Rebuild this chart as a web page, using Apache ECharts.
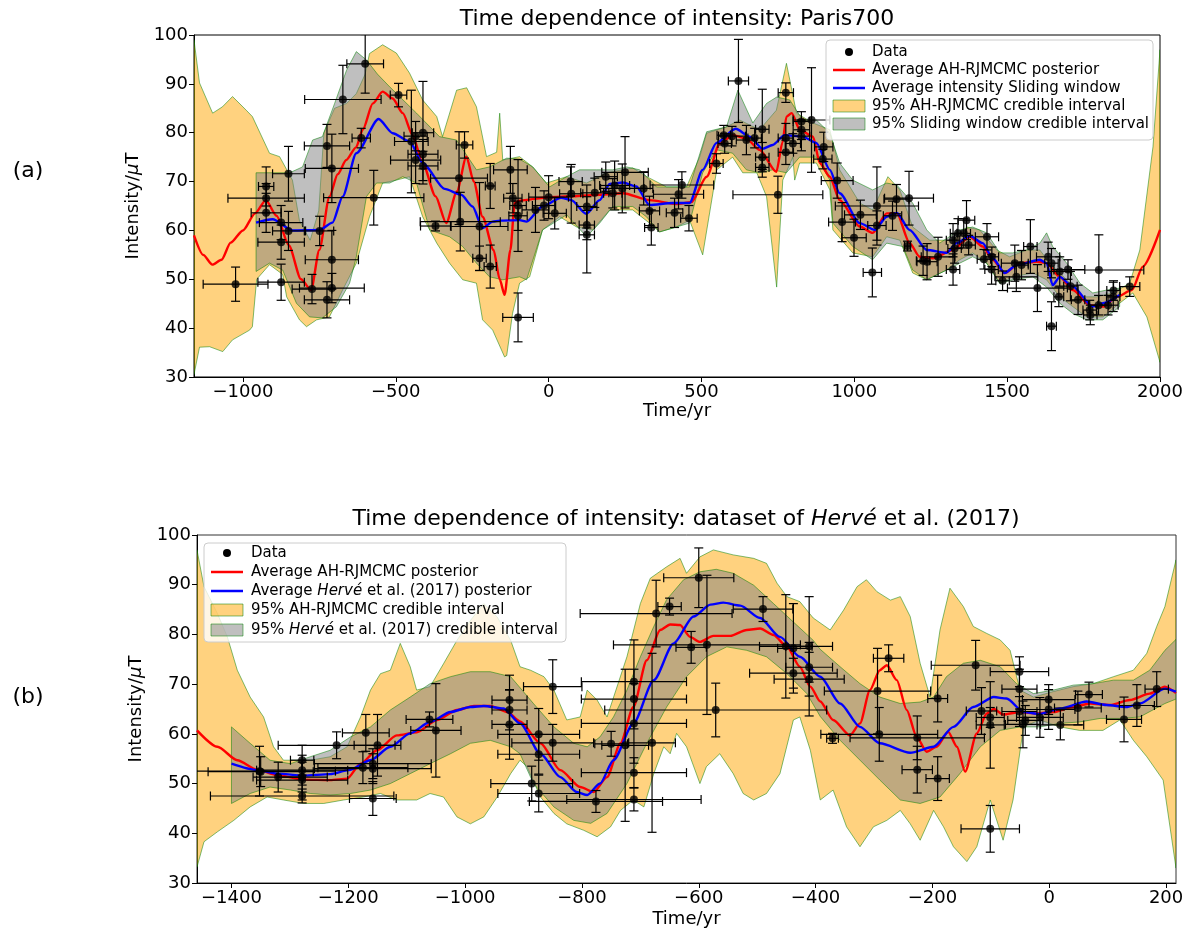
<!DOCTYPE html>
<html><head><meta charset="utf-8">
<script src="https://cdn.jsdelivr.net/npm/echarts@6/dist/echarts.min.js"></script>
<style>html,body{margin:0;padding:0;background:#fff}#c{width:1189px;height:936px}</style>
</head><body><div id="c"></div>
<script>
// ---------- Panel (a): Paris700 ----------
const xTicksA = [-1000,-500,0,500,1000,1500,2000];
const yTicks = [30,40,50,60,70,80,90,100];
// data points: [time, intensity, time error, intensity error]
const dataA = [
[-1024,49.0,106,3.5],[-924,69.0,25,4],[-924,66.6,125,3],[-924,63.6,49,4],[-851,71.6,52,5.6],[-875,61.6,71,3.5],
[-851,59.9,52,4],[-875,57.6,76,3.5],[-875,49.4,76,3.7],[-774,48.0,65,3],[-749,59.9,46,3],[-725,77.3,74,4.4],
[-709,72.7,87,7],[-709,54.0,87,6],[-709,48.2,106,3],[-725,45.8,74,3.7],[-673,86.8,125,7],[-600,94.1,60,6],
[-613,78.9,30,2],[-572,66.7,164,5.6],[-491,87.7,27,2.4],[-449,78.2,55,10.5],[-435,79.3,38,3],[-411,80.0,35,10.5],
[-435,74.4,82,4.8],[-411,75.6,49,3],[-411,73.2,49,3],[-370,60.9,49,1],[-275,77.5,27,2.7],[-293,70.7,93,9.5],
[-289,61.8,131,6],[-226,60.8,93,9],[-226,54.3,22,2.5],[-191,69.1,16,4.6],[-191,52.6,20,4.4],[-125,72.4,55,4.8],
[-117,66.6,30,3],[-100,42.2,50,5],[-100,63.0,30,3],[-100,65.1,27,9.4],[-43,64.2,44,4.6],[-15,65.1,38,3],
[0,66.8,65,4.4],[20,63.5,38,3.2],[72,70.0,38,3],[74,67.5,38,6],[125,64.9,33,4.4],[125,61.1,25,3],
[125,59.1,25,7.8],[151,67.7,46,3],[187,71.0,38,3],[216,69.2,49,5],[210,67.6,30,3],[241,68.6,71,5],
[250,71.9,76,7.3],[311,68.6,30,3.4],[330,64.0,33,3],[336,60.6,22,3.6],[412,63.6,27,3],[425,67.4,82,3],
[436,69.3,104,2.7],[459,62.5,27,2.6],[549,73.7,22,2],[573,79.5,22,2],[576,77.8,22,2],[600,79.3,44,2],
[621,90.6,33,8.5],[647,78.5,33,3],[674,78.9,22,2],[699,80.7,22,8.2],[699,75.0,22,3],[699,72.9,22,2],
[750,67.3,147,3.8],[776,88.2,25,2],[776,78.9,25,3],[776,76.0,25,2.5],[799,77.8,25,2],[827,82.3,27,2],
[827,80.6,27,2],[827,79.3,27,3],[860,82.6,60,10.7],[900,77.1,30,3],[897,74.6,30,2],[944,70.2,52,3.6],
[960,61.7,44,4],[999,58.5,40,3.8],[1020,63.2,52,3],[1059,51.4,30,5],[1074,65.0,136,8],[1074,61.0,30,3],
[1125,63.0,30,3],[1138,66.4,41,3],[1179,66.6,80,5.5],[1174,56.8,10,1],[1225,53.8,22,3],[1238,53.6,33,3.7],
[1274,54.6,55,4],[1323,52.0,22,3.2],[1323,58.0,22,3.4],[1328,56.3,22,3],[1339,59.4,25,3],[1367,62.1,27,4],
[1358,59.4,22,3],[1374,57.0,22,2],[1424,54.1,22,2],[1434,58.7,38,2.7],[1449,52.0,22,3],[1450,54.6,22,2],
[1485,49.7,22,2],[1525,53.3,44,3.7],[1530,50.5,70,3],[1547,52.9,22,3],[1576,56.7,22,5.5],[1599,48.2,98,4.8],
[1634,54.6,38,3],[1645,53.3,22,3],[1645,40.4,16,5],[1672,51.6,38,3],[1669,46.4,16,2],[1699,52.0,55,2],
[1707,48.6,22,3],[1732,45.8,22,3],[1770,43.7,22,2],[1772,42.7,22,2],[1800,51.9,147,7.2],[1799,44.7,33,2],
[1830,44.7,33,2],[1847,46.4,22,3],[1848,47.7,22,2],[1901,48.5,33,2]
];
const redA = [
[-1160,59],[-1130,55],[-1100,53],[-1070,54],[-1040,57.5],[-1000,60],[-960,63.5],[-925,66.2],[-890,63],[-850,57],
[-810,50],[-777,47.8],[-750,56],[-717,66.9],[-690,71.5],[-662,74.4],[-630,77],[-608,80.6],[-575,86],[-543,88.4],
[-510,87],[-477,84],[-445,79.5],[-412,73.8],[-370,67],[-335,61.5],[-300,68],[-269,75.1],[-245,70],[-216,62.8],
[-180,56],[-160,50],[-144,46.8],[-125,56],[-111,65.6],[-95,66.1],[0,66.8],[80,67],[167,67.3],[243,67.6],
[330,66.2],[418,65.4],[467,65.8],[517,71],[560,77.8],[603,79.5],[647,78.8],[690,76.5],[745,72],[765,78],
[778,83.3],[795,84],[822,80.6],[865,79.2],[887,73.8],[920,71],[952,66.2],[1018,60.8],[1060,59.5],[1106,63.5],
[1139,63.5],[1181,57.4],[1214,54.6],[1257,54.3],[1322,56],[1378,58.7],[1420,56.7],[1453,54],[1492,51.3],[1541,53.3],
[1597,53.6],[1629,53.3],[1672,50.5],[1715,47.8],[1770,44.7],[1813,44.4],[1859,46.4],[1908,47.8],[1944,52.6],[2000,60.1]
];
const blueA = [
[-957,61.6],[-903,62.3],[-838,60],[-749,60.1],[-707,61.6],[-674,66.9],[-629,75.8],[-556,82.8],[-510,79.9],[-455,78.2],
[-412,73.8],[-340,68.5],[-286,67.3],[-249,64.9],[-216,60.5],[-183,61.8],[-160,62],[-95,62.1],[-72,61.8],[-20,64.9],
[41,66.7],[74,66.2],[123,63.4],[167,66.2],[200,69.5],[243,69.8],[287,69],[330,65.2],[406,65.6],[461,65.6],
[504,72.4],[549,77.9],[612,80.8],[658,79.2],[700,76.7],[733,77.5],[772,79.5],[831,79.2],[876,77.9],[920,72.4],
[952,67.6],[1018,61.5],[1067,60.1],[1106,62.8],[1139,63.6],[1181,60.1],[1237,56],[1302,55.4],[1335,57.4],[1378,58.9],
[1420,57.4],[1453,54.3],[1492,51.3],[1531,52.9],[1607,54],[1629,53.3],[1649,48.8],[1672,50.5],[1715,48.5],[1780,44.4],
[1813,45.1],[1868,46.8]
];
const orangeUpperA = [
[-1160,99],[-1142,90.2],[-1099,84],[-1067,85.3],[-1034,87.4],[-989,84.6],[-969,83.3],[-913,75.8],[-880,75.1],[-838,70.3],
[-815,62],[-780,58],[-752,64],[-735,80],[-700,85],[-661,86],[-629,88],[-600,92],[-586,96.2],[-543,98],
[-498,96.3],[-455,92.2],[-412,86.7],[-366,83.3],[-347,79.2],[-301,88.7],[-268,89.2],[-236,85.3],[-203,75.1],[-170,76],
[-160,84],[-150,74.4],[-95,75.1],[-52,73],[-7,69.7],[59,71],[124,69.7],[190,71.8],[275,72.8],[321,71],
[386,68.9],[451,68.9],[494,75],[517,79.9],[582,81.2],[625,82.6],[690,80.6],[745,84.6],[778,94.2],[811,84],
[865,82],[920,80.6],[952,72.4],[1018,65.6],[1060,64.2],[1110,71],[1149,68.3],[1191,60.7],[1247,58],[1322,58],
[1368,60.7],[1410,60.1],[1466,56],[1508,54.6],[1564,56],[1607,56],[1639,53.3],[1695,49.9],[1747,46.4],[1793,46.4],
[1845,47.2],[1901,49.2],[1934,56],[1977,77.1],[2000,97]
];
const orangeLowerA = [
[-1160,30.5],[-1142,36.1],[-1109,36.2],[-1066,35.2],[-1034,37.6],[-978,39.6],[-969,40.3],[-955,50],[-913,53],[-870,51],
[-857,46.4],[-815,41.7],[-792,40.3],[-759,41.7],[-717,42.3],[-674,47.8],[-629,53.3],[-586,62.8],[-543,69.7],[-498,70.3],
[-455,71],[-412,62.8],[-366,57.4],[-324,53.3],[-281,49.9],[-236,49.2],[-216,41.7],[-183,39.6],[-144,34.1],[-137,34.4],
[-118,43],[-95,49.2],[-62,50.5],[-20,60.1],[36,62.8],[92,60.7],[144,60.1],[200,64.2],[275,64.2],[330,61.5],
[363,59.7],[418,60.7],[461,62.1],[504,55],[550,72.4],[602,75],[635,71.8],[681,71.8],[713,66.9],[746,48.4],
[766,70.3],[799,75],[805,70.3],[821,73.8],[876,73.8],[920,68.3],[930,60.1],[995,55.4],[1060,54.6],[1106,58.7],
[1149,58],[1191,51.3],[1237,49.9],[1302,51.9],[1345,54],[1387,55.4],[1433,53.3],[1476,49.2],[1518,50.5],[1584,51.3],
[1629,49.9],[1672,46.4],[1715,44.4],[1760,42.3],[1813,42.3],[1868,45.1],[1911,47.2],[1957,42.3],[2000,33]
];
const grayUpperA = [
[-957,71.8],[-847,71.8],[-805,73],[-772,78.5],[-740,79.2],[-700,86],[-661,92.8],[-629,96.6],[-596,94.9],[-560,92],
[-520,89.4],[-432,84],[-357,79.2],[-301,78.5],[-236,72.4],[-193,73],[-137,74.8],[-95,74.6],[-52,73],[3,68.9],
[59,71],[101,72.4],[157,72.4],[210,72.4],[255,73],[298,72.4],[353,68.9],[418,68.9],[461,68.9],[517,80.2],
[582,81.2],[619,88.7],[668,82],[713,86],[746,87.3],[789,86.7],[831,82.6],[876,82.6],[920,79.9],[952,73.8],
[995,70.3],[1060,68.3],[1106,69.7],[1139,69.3],[1191,65.6],[1237,60.1],[1279,57.4],[1345,60.1],[1387,60.7],[1433,59.5],
[1476,55.4],[1518,55.4],[1564,56],[1607,57.4],[1629,59.5],[1649,56.7],[1695,53.3],[1738,49.2],[1780,47.2],[1826,47.8],
[1868,48.2]
];
const grayLowerA = [
[-957,51.6],[-913,53.3],[-870,51.9],[-825,45.1],[-782,42.3],[-740,42.1],[-694,44.4],[-651,49.2],[-629,54.6],[-596,66.9],
[-563,69.7],[-520,69.7],[-477,71],[-432,69.7],[-389,60.1],[-324,58.7],[-281,56.7],[-236,53.3],[-193,50.5],[-150,49.9],
[-95,50.5],[-72,49.9],[-20,60.1],[59,63.2],[124,58.7],[167,61.5],[210,64.9],[275,64.9],[320,62.8],[363,59.7],
[418,60.7],[461,61.5],[504,71.8],[550,76.5],[602,75.8],[647,72.4],[690,71.8],[733,72.4],[778,71.8],[821,75],
[876,75],[920,70.3],[930,61.5],[995,56.7],[1060,54],[1106,57.4],[1159,56.7],[1191,51.9],[1237,49.9],[1302,51.9],
[1345,53.3],[1387,54.6],[1433,53.3],[1476,49.2],[1518,49.9],[1584,50.5],[1629,48.4],[1672,45.1],[1715,43],[1760,41.7],
[1813,41.7],[1868,44.4]
];

// ---------- Panel (b): Hervé et al. (2017) ----------
const xTicksB = [-1400,-1200,-1000,-800,-600,-400,-200,0,200];
const dataB = [
[-1352,52.5,130,5],[-1350,52.4,90,3],[-1320,51.3,43,3],[-1279,54.7,20,3],[-1279,52.7,78,3],[-1279,51.3,43,3],
[-1279,47.5,157,1.4],[-1279,50.7,78,4],[-1220,57.7,100,2.7],[-1170,60.2,40,3.7],[-1175,53.2,77,3.2],[-1150,57.7,40,6.2],
[-1158,54.0,100,3],[-1158,53.0,100,3],[-1158,47.0,40,3.4],[-1061,62.9,40,1.5],[-1050,60.7,43,9.4],[-924,66.8,30,5],
[-924,64.8,30,4],[-924,61.9,30,7],[-874,59.9,70,5.2],[-874,55.9,70,4],[-886,50.0,70,3.5],[-874,48.0,70,3.7],
[-850,69.5,50,5.4],[-850,58.2,70,3.7],[-776,46.4,114,2.2],[-750,58.0,28,2.5],[-726,57.7,40,15.3],[-711,70.5,90,8.4],
[-711,67.0,90,6],[-711,62.1,90,8],[-711,52.2,90,3],[-711,46.8,115,2.3],[-680,58.2,40,18],[-673,84.2,130,6.7],
[-650,85.6,20,1.7],[-613,77.4,26,3.2],[-600,91.4,60,6],[-586,77.9,160,14],[-571,64.8,190,5.4],[-490,85.1,51,2.5],
[-451,77.6,45,10.4],[-438,77.2,27,9],[-438,72.2,75,3],[-411,77.6,40,10],[-411,73.4,40,3],[-411,71.0,60,7.4],
[-371,59.1,10,1],[-294,68.6,91,8.6],[-291,59.9,100,5.4],[-275,75.2,26,2.7],[-226,59.2,115,4.4],[-226,52.8,26,4.7],
[-191,67.1,17,4.7],[-191,51.0,20,4.4],[-126,73.8,76,5],[-116,64.6,26,4.7],[-101,63.3,24,2],[-101,61.8,24,8.7],
[-101,40.9,50,4.7],[-51,72.5,50,3],[-51,69.0,30,4],[-51,64.5,30,3],[-45,61.9,30,4.7],[-41,62.7,30,3],
[-16,63.3,40,4],[-1,66.9,45,3],[-1,64.9,45,4],[19,61.8,40,3],[49,65.2,40,3.4],[68,67.9,23,2.5],
[128,62.9,30,4.5],[150,65.7,30,4.2],[184,69.0,20,3.5]
];
const redB = [
[-1459,60.7],[-1424,57.4],[-1390,54.7],[-1356,52.8],[-1322,51.7],[-1276,50.8],[-1231,50.7],[-1202,51],[-1179,54],[-1151,56.7],
[-1117,59.7],[-1083,60.3],[-1048,62.8],[-1014,64.8],[-985,65.6],[-957,65.6],[-928,64.4],[-906,62.5],[-871,58.1],[-837,52.7],
[-803,49.3],[-780,48.3],[-757,51.3],[-734,58.1],[-712,65.4],[-689,74.8],[-666,80.9],[-649,82],[-632,81.9],[-615,79.5],
[-598,78.5],[-575,79.7],[-546,79.7],[-518,80.9],[-495,81.2],[-472,79.9],[-449,77.5],[-427,73.5],[-409,69.5],[-392,66.5],
[-370,62.8],[-341,59.7],[-324,62.1],[-307,68.8],[-290,72.8],[-278,73.8],[-261,70.8],[-244,64.8],[-227,59.4],[-210,56.4],
[-193,57.4],[-173,60.4],[-158,57.4],[-144,52.4],[-124,60.1],[-107,64.1],[-95,65],[-79,63.9],[-50,64.4],[-22,64.1],
[7,64.4],[41,65.4],[70,66.1],[104,65.8],[138,66.8],[172,68.1],[198,69.5],[217,68.2]
];
const blueB = [
[-1400,54],[-1356,52.7],[-1322,52],[-1276,51.6],[-1231,51.9],[-1199,52.7],[-1162,54.7],[-1128,57.4],[-1094,60.1],[-1060,62.4],
[-1025,64.4],[-991,65.4],[-968,65.6],[-934,65.1],[-906,62.1],[-871,56],[-837,51.3],[-809,48.3],[-791,47.7],[-769,50],
[-746,54.7],[-712,62.1],[-677,70.8],[-643,78.2],[-609,83.6],[-580,86],[-558,86.4],[-529,85.8],[-495,83.3],[-461,79.5],
[-427,75.5],[-392,71.5],[-358,66.1],[-324,61.4],[-290,58.1],[-238,56.2],[-198,57.4],[-164,61.4],[-130,65.4],[-95,67.4],
[-73,67.1],[-44,64.4],[-16,64],[18,65.1],[64,66.5],[98,65.8],[132,65.4],[155,66.1],[198,69.1],[217,68.5]
];
const orangeUpperB = [
[-1459,97],[-1447,89.6],[-1424,84.2],[-1407,79.5],[-1390,72.8],[-1368,67.4],[-1345,63.4],[-1328,57.4],[-1311,54.7],[-1265,54.7],
[-1231,55.4],[-1202,57.4],[-1179,63.4],[-1162,68.8],[-1145,72.1],[-1128,72.8],[-1111,78.2],[-1094,73.5],[-1083,68.8],[-1060,69.5],
[-1037,74.1],[-1014,78.8],[-991,82.8],[-968,86.2],[-945,83.5],[-922,78.8],[-906,73.5],[-888,72.8],[-865,71.5],[-848,68.8],
[-826,62.8],[-803,63.4],[-791,68.8],[-774,66.8],[-757,63.4],[-723,75.5],[-700,86.2],[-683,91.3],[-655,93.6],[-632,95.3],
[-621,92.3],[-598,95.6],[-575,97],[-541,96],[-506,95.3],[-484,94.3],[-466,90.3],[-449,87.6],[-427,86.6],[-404,83.3],
[-375,80.9],[-352,84.9],[-329,89.6],[-313,91],[-295,88.6],[-272,86.9],[-255,87.6],[-238,83.6],[-221,74.2],[-204,67.4],
[-187,80.9],[-170,89.3],[-147,85.6],[-130,81.6],[-107,80.2],[-84,78.9],[-67,76.8],[-50,68.8],[-27,67.4],[7,68.5],
[41,69.5],[75,70.1],[110,71.5],[144,72.8],[167,76.2],[184,81.6],[198,85.6],[217,95]
];
const orangeLowerB = [
[-1459,33.2],[-1447,38.3],[-1424,40.3],[-1396,42.6],[-1368,45.3],[-1339,47.3],[-1311,46.7],[-1276,46],[-1242,46],[-1208,46.7],
[-1174,47.3],[-1145,48],[-1117,46.7],[-1083,46.7],[-1060,48],[-1037,47.3],[-1014,43.3],[-991,41.9],[-968,43.3],[-945,47.3],
[-922,52],[-906,54.7],[-894,53.4],[-871,47.3],[-848,44],[-826,41.9],[-797,40.6],[-774,39.3],[-751,41.3],[-734,44.6],
[-712,46.7],[-694,45.3],[-677,52],[-660,57.4],[-649,56],[-638,60.1],[-621,57.4],[-598,50],[-587,53.4],[-564,56],
[-541,52],[-524,48],[-506,46.7],[-484,48],[-461,52],[-438,62.8],[-427,63.4],[-409,56.7],[-392,46.7],[-370,48.7],
[-347,41.3],[-324,37.3],[-301,41.3],[-278,42.6],[-255,44.6],[-238,41.9],[-221,38.6],[-198,44.6],[-181,41.3],[-164,37.3],
[-141,34.3],[-124,37.3],[-101,46.7],[-79,38.6],[-62,46.7],[-44,61.4],[-16,62.8],[18,61.4],[52,60.7],[92,60.7],
[121,62.8],[144,58.7],[167,55.4],[195,50.7],[217,33]
];
const grayUpperB = [
[-1400,61.4],[-1368,58.1],[-1334,54.7],[-1299,54],[-1265,55.4],[-1231,56.7],[-1196,59.4],[-1162,61.4],[-1128,64.8],[-1094,67.4],
[-1060,70.1],[-1025,71.5],[-991,72.5],[-957,72.5],[-922,71.5],[-883,66.1],[-848,61.4],[-814,58.1],[-791,57.4],[-769,59.4],
[-746,63.4],[-723,68.8],[-700,75.5],[-677,81.6],[-655,87],[-626,91],[-598,92.6],[-570,93.1],[-541,92.3],[-506,89.9],
[-472,86.2],[-438,82.5],[-404,78.8],[-392,77],[-358,73.5],[-324,70.1],[-290,67.4],[-255,66.1],[-221,66.4],[-198,67.4],
[-176,71.5],[-147,74.2],[-118,74.8],[-84,73.5],[-56,70.1],[-27,68.1],[7,68.8],[41,69.8],[75,70.1],[110,70.8],
[144,70.8],[172,72.8],[198,76.8],[217,79]
];
const grayLowerB = [
[-1400,46],[-1368,48],[-1334,49.3],[-1299,48.7],[-1265,48],[-1231,47.7],[-1196,48],[-1162,48.7],[-1128,50],[-1094,52],
[-1060,54],[-1025,56],[-991,58.1],[-957,58.7],[-922,57.4],[-906,56],[-883,50],[-848,45.3],[-814,42.6],[-785,42],
[-757,44],[-723,50],[-689,58.1],[-655,65.4],[-621,71.5],[-587,75.5],[-552,77.5],[-518,76.8],[-484,75.5],[-449,72.1],
[-415,68.1],[-392,63.5],[-358,58.7],[-324,54.7],[-290,50.7],[-255,46.7],[-221,46],[-187,47.3],[-153,52],[-118,57.4],
[-84,60.7],[-50,61.4],[-16,61.4],[18,62.1],[52,62.4],[87,63.1],[121,63.1],[155,63.4],[198,66.1],[217,67]
];

// ---------- rendering ----------
const FONT = 'DejaVu Sans';
const ORANGE = 'rgba(255,165,0,0.5)';
const GRAY = 'rgba(128,128,128,0.5)';
const EDGE = 'rgba(0,128,0,0.5)';
const chart = echarts.init(document.getElementById('c'));

function band(name, upper, lower, fill, idx, z) {
  return {
    type: 'custom', name, xAxisIndex: idx, yAxisIndex: idx, z, silent: true, clip: true,
    data: [[upper[0][0], upper[0][1]]],
    renderItem: (params, api) => {
      const pts = upper.map(p => api.coord(p)).concat(lower.slice().reverse().map(p => api.coord(p)));
      return { type: 'polygon', shape: { points: pts }, style: { fill: fill, stroke: EDGE, lineWidth: 1 } };
    }
  };
}
function errBars(name, pts, idx) {
  return {
    type: 'custom', name, xAxisIndex: idx, yAxisIndex: idx, z: 5, silent: true, clip: true,
    data: pts, encode: { x: 0, y: 1 },
    renderItem: (params, api) => {
      const x = api.value(0), y = api.value(1), xe = api.value(2), ye = api.value(3);
      const L = api.coord([x - xe, y]), R = api.coord([x + xe, y]);
      const T = api.coord([x, y + ye]), B = api.coord([x, y - ye]);
      const c = 4.5, st = { stroke: '#000', lineWidth: 1.2 };
      const ln = (x1, y1, x2, y2) => ({ type: 'line', shape: { x1, y1, x2, y2 }, style: st });
      return { type: 'group', children: [
        ln(L[0], L[1], R[0], R[1]), ln(T[0], T[1], B[0], B[1]),
        ln(L[0], L[1] - c, L[0], L[1] + c), ln(R[0], R[1] - c, R[0], R[1] + c),
        ln(T[0] - c, T[1], T[0] + c, T[1]), ln(B[0] - c, B[1], B[0] + c, B[1])
      ] };
    }
  };
}
function dots(name, pts, idx) {
  return { type: 'scatter', name, xAxisIndex: idx, yAxisIndex: idx, z: 6, silent: true,
    data: pts.map(p => [p[0], p[1]]), symbolSize: 8, itemStyle: { color: '#000' } };
}
function curve(name, pts, color, idx) {
  return { type: 'line', name, xAxisIndex: idx, yAxisIndex: idx, z: 4, silent: true, data: pts,
    showSymbol: false, smooth: 0.25, smoothMonotone: 'x', lineStyle: { color, width: 2.4 }, itemStyle: { color } };
}
const minus = v => (v < 0 ? '\u2212' + Math.abs(v) : String(v));
function xAx(idx, min, max, ticks, gap) {
  return { type: 'value', gridIndex: idx, min, max, name: 'Time/yr', nameLocation: 'middle', nameGap: gap,
    nameTextStyle: { fontFamily: FONT, fontSize: 18, color: '#000' },
    splitLine: { show: false },
    axisLine: { onZero: false, lineStyle: { color: '#000', width: 1 } },
    axisTick: { customValues: ticks, length: 5, inside: false, lineStyle: { color: '#000' } },
    axisLabel: { customValues: ticks, formatter: minus, fontFamily: FONT, fontSize: 18, color: '#000', margin: 6 } };
}
function yAx(idx) {
  return { type: 'value', gridIndex: idx, min: 30, max: 100, interval: 10,
    name: '{n|Intensity/}{i|\u03bc}{n|T}', nameLocation: 'middle', nameGap: 50, nameRotate: 90,
    nameTextStyle: { fontFamily: FONT, fontSize: 18, color: '#000',
      rich: { n: { fontFamily: FONT, fontSize: 18, color: '#000' }, i: { fontFamily: FONT, fontSize: 18, fontStyle: 'italic', color: '#000' } } },
    splitLine: { show: false },
    axisLine: { onZero: false, lineStyle: { color: '#000', width: 1 } },
    axisTick: { length: 5, inside: false, lineStyle: { color: '#000' } },
    axisLabel: { customValues: yTicks, fontFamily: FONT, fontSize: 18, color: '#000', margin: 6 } };
}
function legend(x, y, w, h, handleX, textX, rows, labels) {
  const g = [];
  g.push({ type: 'rect', shape: { x, y, width: w, height: h, r: 4 }, style: { fill: 'rgba(255,255,255,0.8)', stroke: '#cccccc', lineWidth: 1 }, z: 100 });
  const hx1 = handleX, hx2 = handleX + 32;
  g.push({ type: 'circle', shape: { cx: (hx1 + hx2) / 2, cy: rows[0], r: 4 }, style: { fill: '#000' }, z: 101 });
  g.push({ type: 'line', shape: { x1: hx1, y1: rows[1], x2: hx2, y2: rows[1] }, style: { stroke: '#ff0000', lineWidth: 2.5 }, z: 101 });
  g.push({ type: 'line', shape: { x1: hx1, y1: rows[2], x2: hx2, y2: rows[2] }, style: { stroke: '#0000ff', lineWidth: 2.5 }, z: 101 });
  g.push({ type: 'rect', shape: { x: hx1, y: rows[3] - 6, width: 32, height: 12 }, style: { fill: ORANGE, stroke: EDGE, lineWidth: 1 }, z: 101 });
  g.push({ type: 'rect', shape: { x: hx1, y: rows[4] - 6, width: 32, height: 12 }, style: { fill: GRAY, stroke: EDGE, lineWidth: 1 }, z: 101 });
  labels.forEach((t, i) => g.push({ type: 'text', x: textX, y: rows[i], z: 101,
    style: { text: t, fontFamily: FONT, fontSize: 15, fill: '#000', verticalAlign: 'middle', align: 'left',
      rich: { n: { fontFamily: FONT, fontSize: 15, fill: '#000' }, i: { fontFamily: FONT, fontSize: 15, fontStyle: 'italic', fill: '#000' } } } }));
  return g;
}
const titleStyle = { fontFamily: FONT, fontSize: 22, fill: '#000', align: 'center', verticalAlign: 'middle',
  rich: { n: { fontFamily: FONT, fontSize: 22, fill: '#000' }, i: { fontFamily: FONT, fontSize: 22, fontStyle: 'italic', fill: '#000' } } };

const option = {
  backgroundColor: '#fff',
  animation: false,
  grid: [
    { left: 194, top: 35, width: 966, height: 342, show: true, borderColor: '#000', borderWidth: 1, backgroundColor: 'transparent' },
    { left: 197, top: 535, width: 979, height: 348, show: true, borderColor: '#333', borderWidth: 1, backgroundColor: 'transparent' }
  ],
  xAxis: [ xAx(0, -1160, 2000, xTicksA, 22), xAx(1, -1459, 217, xTicksB, 27) ],
  yAxis: [ yAx(0), yAx(1) ],
  series: [
    band('95% AH-RJMCMC credible interval', orangeUpperA, orangeLowerA, ORANGE, 0, 1),
    band('95% Sliding window credible interval', grayUpperA, grayLowerA, GRAY, 0, 2),
    curve('Average AH-RJMCMC posterior', redA, '#ff0000', 0),
    curve('Average intensity Sliding window', blueA, '#0000ff', 0),
    errBars('Data error', dataA, 0),
    dots('Data', dataA, 0),
    band('95% AH-RJMCMC credible interval (b)', orangeUpperB, orangeLowerB, ORANGE, 1, 1),
    band('95% Hervé credible interval', grayUpperB, grayLowerB, GRAY, 1, 2),
    curve('Average AH-RJMCMC posterior (b)', redB, '#ff0000', 1),
    curve('Average Hervé posterior', blueB, '#0000ff', 1),
    errBars('Data error (b)', dataB, 1),
    dots('Data (b)', dataB, 1)
  ],
  graphic: [
    { type: 'text', x: 677, y: 19, style: Object.assign({ text: 'Time dependence of intensity: Paris700' }, titleStyle) },
    { type: 'text', x: 686, y: 519, style: Object.assign({ text: '{n|Time dependence of intensity: dataset of }{i|Hervé}{n| et al. (2017)}' }, titleStyle) },
    { type: 'text', x: 28, y: 171, style: { text: '(a)', fontFamily: FONT, fontSize: 22, fill: '#000', align: 'center', verticalAlign: 'middle' } },
    { type: 'text', x: 28, y: 697, style: { text: '(b)', fontFamily: FONT, fontSize: 22, fill: '#000', align: 'center', verticalAlign: 'middle' } },
    ...legend(826, 40, 327, 100, 833, 872, [52, 70, 88, 106, 124],
      ['Data', 'Average AH-RJMCMC posterior', 'Average intensity Sliding window', '95% AH-RJMCMC credible interval', '95% Sliding window credible interval']),
    ...legend(204, 543, 362, 99, 211, 251, [553, 572, 591, 610, 630],
      ['Data', 'Average AH-RJMCMC posterior', '{n|Average }{i|Hervé}{n| et al. (2017) posterior}', '95% AH-RJMCMC credible interval', '{n|95% }{i|Hervé}{n| et al. (2017) credible interval}'])
  ]
};
chart.setOption(option);
</script></body></html>
